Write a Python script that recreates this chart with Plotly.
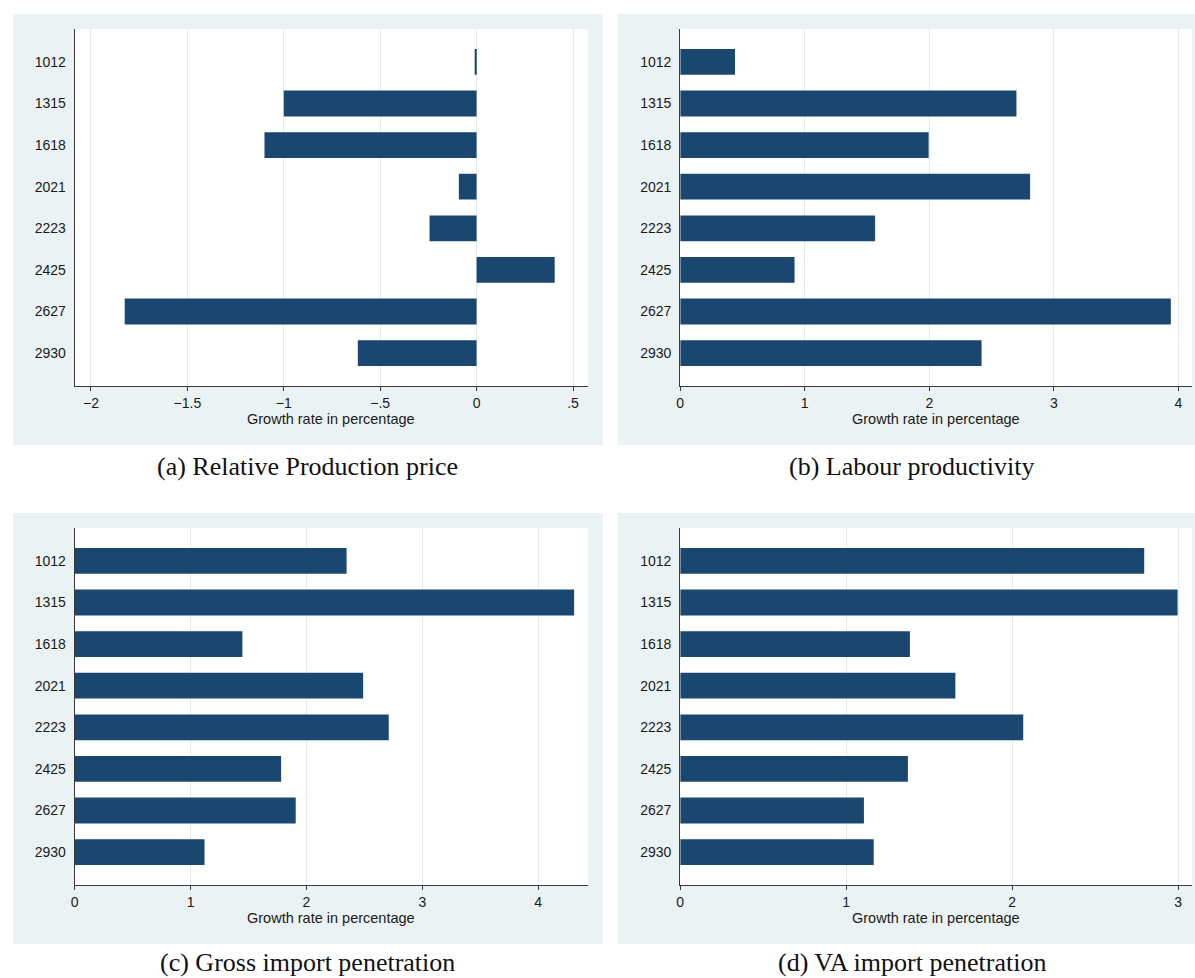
import plotly.graph_objects as go

W, H = 1195, 978

categories = ["1012", "1315", "1618", "2021", "2223", "2425", "2627", "2930"]
relative_price = [-0.01, -1.00, -1.10, -0.092, -0.244, 0.405, -1.825, -0.616]
labour_prod = [0.44, 2.70, 1.995, 2.81, 1.565, 0.918, 3.94, 2.42]
gross_import = [2.346, 4.31, 1.447, 2.489, 2.71, 1.781, 1.907, 1.12]
va_import = [2.796, 2.997, 1.384, 1.658, 2.067, 1.372, 1.107, 1.166]

captions = ["(a) Relative Production price", "(b) Labour productivity",
            "(c) Gross import penetration", "(d) VA import penetration"]
x_title = "Growth rate in percentage"

xticks_a = [-2, -1.5, -1, -0.5, 0, 0.5]
xtick_text_a = ["\u22122", "\u22121.5", "\u22121", "\u2212.5", "0", ".5"]
xticks_b = [0, 1, 2, 3, 4]
xticks_c = [0, 1, 2, 3, 4]
xticks_d = [0, 1, 2, 3]

BAR = "#1a476f"
BG = "#eaf2f3"
GRID = "#e2ecee"
AX = "#3a3a3a"
SANS = "Liberation Sans, Arial, sans-serif"

# panel layout in pixels: plot area (x0, x1, ytop, ybottom), gray box (bx0, bx1, by0, by1)
panels = [
    dict(vals=relative_price, plot=(71, 586, 29, 386), box=(9, 601, 14, 445),
         rng=[-2.084, 0.578], ticks=xticks_a, ticktext=xtick_text_a, cap=(305, 466)),
    dict(vals=labour_prod, plot=(678.5, 1192, 29, 386), box=(616, 1195, 14, 445),
         rng=[0, 4.11], ticks=xticks_b, ticktext=[str(t) for t in xticks_b], cap=(911, 466)),
    dict(vals=gross_import, plot=(71, 586, 528, 885), box=(9, 601, 513, 944),
         rng=[0, 4.43], ticks=xticks_c, ticktext=[str(t) for t in xticks_c], cap=(305, 962)),
    dict(vals=va_import, plot=(678.5, 1192, 528, 885), box=(616, 1195, 513, 944),
         rng=[0, 3.084], ticks=xticks_d, ticktext=[str(t) for t in xticks_d], cap=(911, 962)),
]

def px_x(v):
    return v / W

def px_y(v):
    return 1 - v / H

fig = go.Figure()
shapes = []
annotations = []
layout = {}

for i, p in enumerate(panels):
    n = "" if i == 0 else str(i + 1)
    xa, ya = "x" + n, "y" + n
    x0, x1, yt, yb = p["plot"]
    bx0, bx1, by0, by1 = p["box"]
    fig.add_trace(go.Bar(
        x=p["vals"], y=categories, orientation="h",
        marker=dict(color=BAR, line=dict(width=0)),
        width=0.62, xaxis=xa, yaxis=ya, showlegend=False,
    ))
    layout["xaxis" + n] = dict(
        domain=[px_x(x0), px_x(x1)], anchor=ya, range=p["rng"],
        tickmode="array", tickvals=p["ticks"], ticktext=p["ticktext"],
        ticks="outside", ticklen=4, tickcolor=AX, tickwidth=1,
        showline=True, linecolor=AX, linewidth=1.2,
        showgrid=True, gridcolor=GRID, gridwidth=1, zeroline=False,
        tickfont=dict(family=SANS, size=14, color="#1a1a1a"),
        fixedrange=True,
    )
    layout["yaxis" + n] = dict(
        domain=[px_y(yb), px_y(yt)], anchor=xa, type="category",
        categoryorder="array", categoryarray=categories,
        range=[7.79, -0.79],
        showline=True, linecolor=AX, linewidth=1.2, ticks="",
        showgrid=False, zeroline=False, ticklabelstandoff=5,
        tickfont=dict(family=SANS, size=14, color="#1a1a1a"),
        fixedrange=True,
    )
    # gray panel background and white plot region
    shapes.append(dict(type="rect", xref="paper", yref="paper", layer="below",
                       x0=px_x(bx0), x1=px_x(bx1), y0=px_y(by1), y1=px_y(by0),
                       fillcolor=BG, line=dict(width=0)))
    shapes.append(dict(type="rect", xref="paper", yref="paper", layer="below",
                       x0=px_x(x0), x1=px_x(x1), y0=px_y(yb), y1=px_y(yt),
                       fillcolor="white", line=dict(width=0)))
    annotations.append(dict(text=x_title, xref="paper", yref="paper",
                            x=px_x((x0 + x1) / 2), y=px_y(yb + 33), xanchor="center", yanchor="middle",
                            showarrow=False,
                            font=dict(family=SANS, size=14.5, color="#1a1a1a")))
    cx, cy = p["cap"]
    annotations.append(dict(text=captions[i], xref="paper", yref="paper",
                            x=px_x(cx), y=px_y(cy), xanchor="center", yanchor="middle",
                            showarrow=False,
                            font=dict(family="Liberation Serif, Times New Roman, serif", size=26, color="#111111")))

fig.update_layout(
    width=W, height=H, margin=dict(l=0, r=0, t=0, b=0),
    paper_bgcolor="white", plot_bgcolor="white",
    shapes=shapes, annotations=annotations, bargap=0.38,
    **layout,
)

fig.write_html("out.html")
